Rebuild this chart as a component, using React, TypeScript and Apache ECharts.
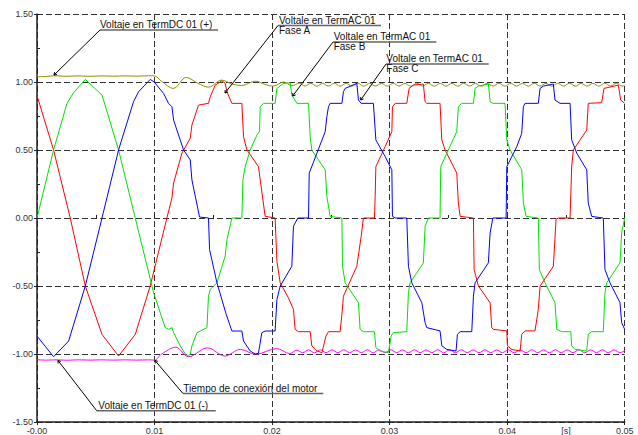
import React, { useEffect, useRef } from "react";
import * as echarts from "echarts";

// ---------- data (time in s, voltage in p.u.) ----------
const xTickValues = [0, 0.01, 0.02, 0.03, 0.04, 0.05];
const yTickValues = [-1.5, -1.0, -0.5, 0, 0.5, 1.0, 1.5];
const xUnitLabel = "[s]";

const faseA: [number, number][] = [
  [0, 0.9], [0.00141, 0.5], [0.00283, 0], [0.00411, -0.5], [0.00553, -0.856], [0.00694, -1.015],
  [0.00836, -0.856], [0.00963, -0.5], [0.01105, 0], [0.01148, 0.147], [0.01162, 0.257], [0.01233, 0.477],
  [0.01304, 0.587], [0.01318, 0.684], [0.01374, 0.83], [0.01459, 0.843], [0.01474, 0.891], [0.01516, 0.977],
  [0.01573, 1.009], [0.01601, 0.99], [0.01616, 0.928], [0.01658, 0.843], [0.01743, 0.843], [0.01757, 0.598],
  [0.01786, 0.5], [0.01884, 0.378], [0.01941, 0.012], [0.02026, 0], [0.02041, -0.318], [0.02069, -0.477],
  [0.02139, -0.587], [0.02182, -0.672], [0.02196, -0.819], [0.02225, -0.836], [0.02324, -0.836], [0.02338, -0.94],
  [0.02381, -0.978], [0.02424, -0.99], [0.02458, -0.868], [0.0248, -0.836], [0.02579, -0.836], [0.02594, -0.709],
  [0.02607, -0.575], [0.02721, -0.355], [0.02758, -0.135], [0.02777, 0], [0.02871, 0], [0.02877, 0.158],
  [0.02883, 0.378], [0.02962, 0.525], [0.03019, 0.635], [0.03024, 0.818], [0.03047, 0.843], [0.03146, 0.843],
  [0.03166, 0.953], [0.03202, 0.977], [0.03287, 0.985], [0.03302, 0.855], [0.03316, 0.843], [0.03429, 0.843],
  [0.03444, 0.574], [0.03472, 0.5], [0.03557, 0.354], [0.03571, 0.33], [0.03585, 0.11], [0.036, 0.012],
  [0.03713, 0], [0.03719, -0.379], [0.03755, -0.5], [0.03855, -0.623], [0.03869, -0.806], [0.03883, -0.819],
  [0.03997, -0.83], [0.04002, -0.94], [0.04039, -0.966], [0.0411, -0.978], [0.04124, -0.855], [0.04152, -0.83],
  [0.04237, -0.83], [0.04265, -0.672], [0.0428, -0.5], [0.04393, -0.355], [0.04416, -0.01], [0.04435, 0],
  [0.04535, 0], [0.04549, 0.378], [0.04563, 0.5], [0.04677, 0.647], [0.0469, 0.843], [0.04804, 0.848],
  [0.04824, 0.953], [0.04946, 0.977], [0.04966, 0.867], [0.05, 0.843],
];

const faseB: [number, number][] = [
  [0, 0], [0.00141, 0.5], [0.00255, 0.843], [0.00311, 0.921], [0.00411, 1.019], [0.00553, 0.904],
  [0.00694, 0.5], [0.00836, 0], [0.00978, -0.5], [0.00992, -0.55], [0.01091, -0.806], [0.01119, -0.819],
  [0.01148, -0.806], [0.01162, -0.843], [0.01219, -0.94], [0.01261, -1.0], [0.01289, -1.015], [0.01304, -1.0],
  [0.01318, -0.94], [0.01361, -0.843], [0.01389, -0.831], [0.01446, -0.806], [0.01459, -0.575], [0.01474, -0.525],
  [0.01531, -0.477], [0.01601, -0.28], [0.01616, -0.16], [0.01658, 0], [0.01743, 0], [0.01752, 0.28],
  [0.01771, 0.378], [0.01814, 0.5], [0.01871, 0.61], [0.01893, 0.635], [0.01899, 0.818], [0.01927, 0.843],
  [0.02026, 0.843], [0.02041, 0.953], [0.02097, 0.99], [0.02154, 0.994], [0.02168, 0.904], [0.02211, 0.843],
  [0.0231, 0.843], [0.02324, 0.598], [0.02338, 0.5], [0.02452, 0.354], [0.02466, 0.158], [0.02494, 0.012],
  [0.02594, 0], [0.02599, -0.355], [0.02622, -0.477], [0.02735, -0.623], [0.02749, -0.819], [0.02777, -0.836],
  [0.02871, -0.836], [0.02883, -0.953], [0.02919, -0.978], [0.0299, -0.99], [0.03013, -0.868], [0.03032, -0.843],
  [0.03146, -0.836], [0.0316, -0.55], [0.03174, -0.477], [0.03287, -0.33], [0.03302, -0.06], [0.0333, 0],
  [0.03429, 0], [0.03435, 0.378], [0.03571, 0.635], [0.03585, 0.818], [0.03614, 0.843], [0.03713, 0.843],
  [0.03727, 0.953], [0.03755, 0.97], [0.0384, 0.985], [0.03855, 0.855], [0.03878, 0.843], [0.03982, 0.843],
  [0.03997, 0.574], [0.04025, 0.5], [0.04124, 0.354], [0.04138, 0.11], [0.04161, 0.012], [0.04265, 0],
  [0.04274, -0.379], [0.04322, -0.477], [0.04407, -0.623], [0.04422, -0.819], [0.04464, -0.836], [0.04541, -0.836],
  [0.04549, -0.94], [0.04577, -0.966], [0.04677, -0.978], [0.0469, -0.855], [0.04719, -0.836], [0.04818, -0.836],
  [0.04832, -0.55], [0.04847, -0.477], [0.0496, -0.33], [0.04974, -0.11], [0.05, 0],
];

const faseC: [number, number][] = [
  [0, -0.868], [0.00141, -1.02], [0.00269, -0.905], [0.00411, -0.5], [0.00553, 0], [0.00694, 0.5],
  [0.00821, 0.855], [0.00864, 0.928], [0.00963, 1.019], [0.00997, 1.0], [0.01077, 0.916], [0.01119, 0.843],
  [0.01148, 0.818], [0.01162, 0.72], [0.01247, 0.5], [0.01304, 0.427], [0.01318, 0.28], [0.01383, 0.007],
  [0.01459, 0], [0.01468, -0.232], [0.01531, -0.477], [0.0161, -0.709], [0.01658, -0.831], [0.01743, -0.831],
  [0.01757, -0.905], [0.01814, -0.978], [0.01856, -1.0], [0.01884, -0.995], [0.01913, -0.843], [0.01941, -0.831],
  [0.02026, -0.831], [0.02041, -0.6], [0.02069, -0.5], [0.02168, -0.355], [0.02182, -0.06], [0.02219, 0],
  [0.0231, 0], [0.02316, 0.33], [0.02452, 0.635], [0.02466, 0.745], [0.0248, 0.818], [0.02494, 0.843],
  [0.02594, 0.843], [0.02607, 0.928], [0.02622, 0.953], [0.02721, 0.99], [0.02735, 0.867], [0.02758, 0.843],
  [0.02862, 0.843], [0.02883, 0.574], [0.02962, 0.452], [0.03019, 0.354], [0.03024, 0.012], [0.03047, 0],
  [0.03146, 0], [0.0316, -0.355], [0.03189, -0.477], [0.03274, -0.623], [0.03302, -0.77], [0.03316, -0.806],
  [0.03429, -0.83], [0.03444, -0.94], [0.03486, -0.966], [0.03565, -0.978], [0.03577, -0.855], [0.036, -0.836],
  [0.03699, -0.836], [0.03713, -0.575], [0.03727, -0.477], [0.0384, -0.33], [0.03855, -0.11], [0.03878, 0],
  [0.03991, 0], [0.03997, 0.378], [0.04082, 0.525], [0.04124, 0.623], [0.04138, 0.818], [0.04152, 0.843],
  [0.04265, 0.843], [0.0428, 0.953], [0.04308, 0.97], [0.04393, 0.985], [0.04407, 0.867], [0.0445, 0.843],
  [0.04535, 0.843], [0.04549, 0.574], [0.04592, 0.477], [0.04677, 0.354], [0.0469, 0.11], [0.04719, 0.012],
  [0.04818, 0], [0.04832, -0.379], [0.04875, -0.477], [0.0496, -0.623], [0.04974, -0.77], [0.05, -0.819],
];

const dcPos: [number, number][] = [
  [0, 1.038], [0.0008, 1.041], [0.00147, 1.046], [0.0025, 1.042], [0.0035, 1.045], [0.0045, 1.042],
  [0.0055, 1.045], [0.0065, 1.043], [0.0075, 1.045], [0.0085, 1.043], [0.0095, 1.046], [0.01, 1.045],
  [0.0106, 1.005], [0.0116, 0.953], [0.0127, 1.034], [0.0137, 0.99], [0.0146, 0.962], [0.0157, 1.014],
  [0.0166, 0.985], [0.0174, 0.974], [0.0186, 1.006], [0.0194, 0.982], [0.0201, 0.97], [0.021, 1.0],
  [0.0217, 0.972], [0.0223, 0.992], [0.0228, 0.97], [0.0233, 0.99], [0.0238, 0.969], [0.0243, 0.99],
  [0.0248, 0.97], [0.0253, 0.991], [0.0258, 0.969], [0.0263, 0.99], [0.0268, 0.97], [0.0273, 0.991],
  [0.0278, 0.969], [0.0283, 0.99], [0.0288, 0.97], [0.0293, 0.99], [0.0298, 0.969], [0.0303, 0.991],
  [0.0308, 0.97], [0.0313, 0.99], [0.0318, 0.969], [0.0323, 0.99], [0.0328, 0.97], [0.0333, 0.991],
  [0.0338, 0.969], [0.0343, 0.99], [0.0348, 0.97], [0.0353, 0.99], [0.0358, 0.969], [0.0363, 0.991],
  [0.0368, 0.97], [0.0373, 0.99], [0.0378, 0.969], [0.0383, 0.99], [0.0388, 0.97], [0.0393, 0.991],
  [0.0398, 0.969], [0.0403, 0.99], [0.0408, 0.97], [0.0413, 0.99], [0.0418, 0.969], [0.0423, 0.991],
  [0.0428, 0.97], [0.0433, 0.99], [0.0438, 0.969], [0.0443, 0.99], [0.0448, 0.97], [0.0453, 0.991],
  [0.0458, 0.969], [0.0463, 0.99], [0.0468, 0.97], [0.0473, 0.99], [0.0478, 0.969], [0.0483, 0.991],
  [0.0488, 0.97], [0.0493, 0.99], [0.0498, 0.97], [0.05, 0.975],
];

const dcNeg: [number, number][] = [
  [0, -1.042], [0.0008, -1.045], [0.0017, -1.043], [0.0025, -1.046], [0.0035, -1.043], [0.0045, -1.045],
  [0.0055, -1.043], [0.0065, -1.045], [0.0075, -1.043], [0.0085, -1.045], [0.0095, -1.043], [0.01, -1.045],
  [0.0106, -1.0], [0.0118, -0.95], [0.0129, -1.02], [0.0145, -0.955], [0.016, -1.015], [0.0173, -0.966],
  [0.0186, -1.002], [0.0204, -0.96], [0.0215, -0.997], [0.0221, -0.972], [0.0226, -0.99], [0.0231, -0.97],
  [0.0236, -0.991], [0.0241, -0.969], [0.0246, -0.99], [0.0251, -0.97], [0.0256, -0.991], [0.0261, -0.969],
  [0.0266, -0.99], [0.0271, -0.97], [0.0276, -0.99], [0.0281, -0.969], [0.0286, -0.991], [0.0291, -0.97],
  [0.0296, -0.99], [0.0301, -0.969], [0.0306, -0.99], [0.0311, -0.97], [0.0316, -0.991], [0.0321, -0.969],
  [0.0326, -0.99], [0.0331, -0.97], [0.0336, -0.99], [0.0341, -0.969], [0.0346, -0.991], [0.0351, -0.97],
  [0.0356, -0.99], [0.0361, -0.969], [0.0366, -0.99], [0.0371, -0.97], [0.0376, -0.991], [0.0381, -0.969],
  [0.0386, -0.99], [0.0391, -0.97], [0.0396, -0.99], [0.0401, -0.969], [0.0406, -0.991], [0.0411, -0.97],
  [0.0416, -0.99], [0.0421, -0.969], [0.0426, -0.99], [0.0431, -0.97], [0.0436, -0.991], [0.0441, -0.969],
  [0.0446, -0.99], [0.0451, -0.97], [0.0456, -0.99], [0.0461, -0.969], [0.0466, -0.991], [0.0471, -0.97],
  [0.0476, -0.99], [0.0481, -0.969], [0.0486, -0.99], [0.0491, -0.97], [0.0496, -0.991], [0.05, -0.975],
];

// ---------- styling ----------
const FONT = "'Liberation Sans', Arial, Helvetica, sans-serif";
const GRID_DASH: number[] = [6, 3];

function txt(text: string, x: number, y: number) {
  return {
    type: "text",
    x,
    y,
    z: 100,
    silent: true,
    style: { text, fill: "#111", fontSize: 10, fontFamily: FONT, align: "left", verticalAlign: "middle" },
  };
}
function ln(x1: number, y1: number, x2: number, y2: number, stroke = "#000", lineWidth = 1) {
  return { type: "line", z: 100, silent: true, shape: { x1, y1, x2, y2 }, style: { stroke, lineWidth } };
}
function leader(sx: number, sy: number, ex: number, ey: number) {
  const a = Math.atan2(sy - ey, sx - ex);
  const L = 3;
  const h1 = [ex + L * Math.cos(a + 0.6), ey + L * Math.sin(a + 0.6)];
  const h2 = [ex + L * Math.cos(a - 0.6), ey + L * Math.sin(a - 0.6)];
  return [ln(sx, sy, ex, ey), ln(ex, ey, h1[0], h1[1]), ln(ex, ey, h2[0], h2[1])];
}
function under(x1: number, x2: number, y: number) {
  return ln(x1, y, x2, y, "#666", 1.5);
}

function buildGraphic() {
  return [
    // Voltaje en TermDC 01 (+)
    txt("Voltaje en TermDC 01 (+)", 100, 24.6),
    under(100, 218, 30),
    ...leader(100, 30, 54, 75),
    // Fase A
    txt("Voltale en TermAC 01", 279, 20.5),
    under(278, 381, 25.5),
    txt("Fase A", 279, 30.8),
    ...leader(278, 25.5, 225, 93),
    // Fase B
    txt("Voltale en TermAC 01", 333.7, 36),
    under(333, 436.3, 42),
    txt("Fase B", 333.7, 46.6),
    ...leader(333, 42, 292.7, 96),
    // Fase C
    txt("Voltale en TermAC 01", 386.3, 58.8),
    under(386, 488.7, 64),
    txt("Fase C", 386.3, 68.8),
    ...leader(386, 64, 360.7, 100),
    // Tiempo de conexión del motor
    txt("Tiempo de conexión del motor", 183.3, 388.5),
    under(183, 323.3, 393.5),
    ...leader(183, 393.5, 155, 360.5),
    // Voltaje en TermDC 01 (-)
    txt("Voltaje en TermDC 01 (-)", 98.3, 405),
    under(96.7, 215.7, 410.7),
    ...leader(96.7, 410.7, 58, 360.5),
  ];
}

function lineSeries(name: string, data: [number, number][], color: string, smooth: number | boolean = false) {
  return {
    name,
    type: "line",
    data,
    xAxisIndex: 0,
    yAxisIndex: 0,
    showSymbol: false,
    symbol: "none",
    smooth,
    lineStyle: { color, width: 1 },
    itemStyle: { color },
    emphasis: { disabled: true },
    z: 3,
  };
}

export default function App() {
  const ref = useRef<HTMLDivElement>(null);
  useEffect(() => {
    document.body.style.margin = "0";
    if (!ref.current) return;
    const chart = echarts.init(ref.current, null, { renderer: "svg" });
    const axisLabelBase = { fontSize: 9, color: "#333", fontFamily: FONT };
    const option: any = {
      animation: false,
      backgroundColor: "#fff",
      grid: { left: 37, right: 13.3, top: 14, bottom: 12.5, containLabel: false },
      xAxis: [
        {
          type: "value",
          min: xTickValues[0],
          max: xTickValues[xTickValues.length - 1],
          interval: 0.01,
          axisLine: { show: true, onZero: false, lineStyle: { color: "#222", width: 1.5 } },
          axisTick: { show: true, length: 3, lineStyle: { color: "#222" } },
          axisLabel: {
            ...axisLabelBase,
            margin: 4,
            formatter: (v: number) => (Math.abs(v) < 1e-9 ? "-0.00" : v.toFixed(2)),
          },
          splitLine: { show: true, lineStyle: { type: GRID_DASH, color: "#333", width: 1 } },
        },
        {
          type: "value",
          position: "bottom",
          min: 0,
          max: 0.05,
          interval: 0.005,
          axisLine: { show: false },
          axisTick: { show: true, inside: true, length: 3, lineStyle: { color: "#222" } },
          axisLabel: {
            ...axisLabelBase,
            margin: 4,
            formatter: (v: number) => (Math.abs(v - 0.045) < 1e-6 ? xUnitLabel : ""),
          },
          splitLine: { show: false },
        },
      ],
      yAxis: [
        {
          type: "value",
          min: yTickValues[0],
          max: yTickValues[yTickValues.length - 1],
          interval: 0.5,
          axisLine: { show: true, onZero: false, lineStyle: { color: "#222", width: 1.5 } },
          axisTick: { show: true, length: 3, lineStyle: { color: "#222" } },
          axisLabel: { ...axisLabelBase, margin: 4, formatter: (v: number) => v.toFixed(2) },
          splitLine: { show: true, lineStyle: { type: GRID_DASH, color: "#333", width: 1 } },
        },
        {
          type: "value",
          position: "left",
          min: -1.5,
          max: 1.5,
          interval: 0.25,
          axisLine: { show: false },
          axisTick: { show: true, inside: true, length: 3, lineStyle: { color: "#222" } },
          axisLabel: { show: false },
          splitLine: { show: false },
        },
      ],
      series: [
        lineSeries("Voltaje en TermDC 01 (+)", dcPos, "#8f8f00", 0.35),
        lineSeries("Voltaje en TermDC 01 (-)", dcNeg, "#ff00ff", 0.35),
        lineSeries("Fase A", faseA, "#ff0000"),
        lineSeries("Fase B", faseB, "#00e000"),
        lineSeries("Fase C", faseC, "#0000ff"),
      ],
      graphic: buildGraphic(),
    };
    chart.setOption(option);
    return () => chart.dispose();
  }, []);
  return (
    <div
      ref={ref}
      style={{ position: "absolute", left: 0, top: 0, width: 638, height: 435, background: "#fff" }}
    />
  );
}
